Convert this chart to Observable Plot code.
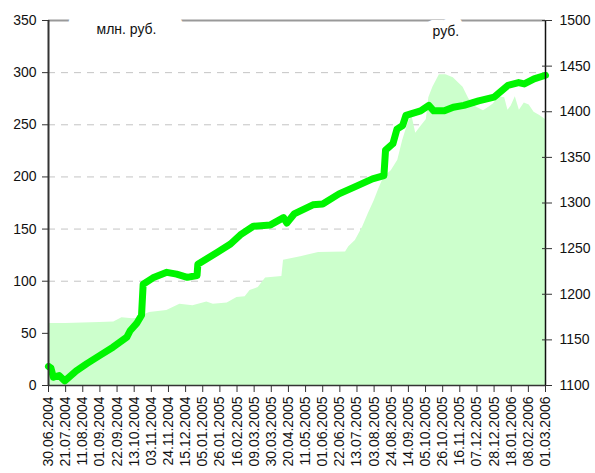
<!DOCTYPE html>
<html>
<head>
<meta charset="utf-8">
<script src="https://cdn.jsdelivr.net/npm/d3@7"></script>
<script src="https://cdn.jsdelivr.net/npm/@observablehq/plot@0.6"></script>
<style>
  html, body { margin: 0; padding: 0; background: #fff; }
  #chart { width: 595px; height: 473px; overflow: hidden; }
</style>
</head>
<body>
<div id="chart"></div>
<script>
// X tick labels (every 3 weeks)
const tickLabels = ["30.06.2004","21.07.2004","11.08.2004","01.09.2004","22.09.2004","13.10.2004","03.11.2004","24.11.2004","15.12.2004","05.01.2005","26.01.2005","16.02.2005","09.03.2005","30.03.2005","20.04.2005","11.05.2005","01.06.2005","22.06.2005","13.07.2005","03.08.2005","24.08.2005","14.09.2005","05.10.2005","26.10.2005","16.11.2005","07.12.2005","28.12.2005","18.01.2006","08.02.2006","01.03.2006"];

// Left axis (млн. руб.) ticks and right axis (руб.) ticks
const leftTicks = [0, 50, 100, 150, 200, 250, 300, 350];
const gridTicks = [50, 100, 150, 200, 250, 300];
const rightTicks = [1100, 1150, 1200, 1250, 1300, 1350, 1400, 1450, 1500];
const leftDomain = [0, 350];
const rightDomain = [1100, 1500];

// Series 1: net assets, млн. руб. (area, left axis)
const assetDates = ["2004-06-30","2004-07-21","2004-08-11","2004-09-01","2004-09-18","2004-09-28","2004-10-11","2004-10-20","2004-10-26","2004-11-01","2004-11-22","2004-12-08","2004-12-24","2005-01-10","2005-01-18","2005-02-04","2005-02-16","2005-02-26","2005-03-04","2005-03-14","2005-03-23","2005-04-12","2005-04-14","2005-05-05","2005-05-27","2005-06-29","2005-07-03","2005-07-11","2005-07-20","2005-07-27","2005-08-03","2005-08-09","2005-08-15","2005-08-24","2005-09-01","2005-09-07","2005-09-13","2005-09-18","2005-09-23","2005-09-29","2005-10-06","2005-10-09","2005-10-14","2005-10-22","2005-10-30","2005-11-08","2005-11-20","2005-11-27","2005-12-06","2005-12-15","2005-12-22","2005-12-27","2006-01-03","2006-01-10","2006-01-14","2006-01-18","2006-01-23","2006-01-28","2006-02-03","2006-02-09","2006-02-15","2006-02-22","2006-03-01"];
const assetValues = [59.5,59.5,60,60.5,61,65,64,64.5,68,70,72,78,76.5,80,78,79,84.5,85,91,94,103,104.5,120,123.5,127.5,128,133,139,152,165,177,189,200,206,216,235,250,260,242,248,255,276,286,298,298,295,286,275,267,263.5,267,270,277,276,264,268,277,264,271,269,262,259,255];

// Series 2: unit price, руб. (line, right axis)
const priceDates = ["2004-06-30","2004-07-03","2004-07-06","2004-07-13","2004-07-20","2004-08-03","2004-08-16","2004-09-01","2004-09-17","2004-10-04","2004-10-08","2004-10-16","2004-10-22","2004-10-24","2004-11-05","2004-11-22","2004-12-04","2004-12-17","2004-12-29","2004-12-30","2005-01-10","2005-01-23","2005-02-08","2005-02-20","2005-03-08","2005-03-29","2005-04-14","2005-04-18","2005-04-27","2005-05-20","2005-06-01","2005-06-21","2005-07-11","2005-08-01","2005-08-15","2005-08-17","2005-08-26","2005-08-31","2005-09-07","2005-09-11","2005-09-29","2005-10-09","2005-10-15","2005-10-28","2005-11-08","2005-11-21","2005-12-09","2005-12-28","2006-01-14","2006-01-27","2006-02-03","2006-02-15","2006-03-01"];
const priceValues = [1121,1119,1109,1111,1105,1116,1124,1133,1142,1153,1160,1168,1177,1211,1218,1224,1222,1218.5,1220.5,1233,1239,1246,1255,1265,1274.5,1276,1284,1278,1288,1298,1299,1310,1318,1326.5,1330,1358,1365,1381,1385,1396,1401,1407,1401,1401,1405,1407,1412,1416,1429,1432,1430.5,1436,1440];

const leftLabel = "млн. руб.";
const rightLabel = "руб.";

const parseTick = d3.utcParse("%d.%m.%Y");
const tickDates = tickLabels.map(parseTick);
const fmt = d3.utcFormat("%d.%m.%Y");
const toLeft = r => (r - rightDomain[0]) * (leftDomain[1] - leftDomain[0]) / (rightDomain[1] - rightDomain[0]) + leftDomain[0];
const fromLeft = v => (v - leftDomain[0]) * (rightDomain[1] - rightDomain[0]) / (leftDomain[1] - leftDomain[0]) + rightDomain[0];

const assets = assetDates.map((d, i) => ({date: new Date(d), v: assetValues[i]}));
const price = priceDates.map((d, i) => ({date: new Date(d), r: priceValues[i]}));
const xDomain = [tickDates[0], tickDates[tickDates.length - 1]];

const chart = Plot.plot({
  width: 595,
  height: 473,
  marginLeft: 48,
  marginRight: 50,
  marginTop: 20,
  marginBottom: 88,
  style: {fontFamily: "'Liberation Sans', Arial, sans-serif", fontSize: "14px", color: "#222", background: "#fff"},
  x: {type: "utc", domain: xDomain},
  y: {domain: leftDomain},
  marks: [
    Plot.ruleY(gridTicks, {stroke: "#c4c4c4", strokeWidth: 1, strokeDasharray: "7,6"}),
    Plot.areaY(assets, {x: "date", y: "v", fill: "#ccffcc", curve: "linear"}),
    Plot.lineY(price, {x: "date", y: d => toLeft(d.r), stroke: "#00f500", strokeWidth: 7, strokeLinejoin: "round", strokeLinecap: "round"}),
    Plot.ruleY([leftDomain[1]], {stroke: "#999", strokeWidth: 2}),
    Plot.text([leftLabel], {frameAnchor: "top-left", dx: 48, dy: 4, text: d => d, fill: "#111", fontSize: 14, stroke: "white", strokeWidth: 58, strokeLinejoin: "round"}),
    Plot.text([rightLabel], {frameAnchor: "top-left", dx: 384, dy: 6, text: d => d, fill: "#111", fontSize: 14, stroke: "white", strokeWidth: 16, strokeLinejoin: "round"}),
    Plot.ruleX([xDomain[0]], {stroke: "#333", strokeWidth: 2}),
    Plot.ruleX([xDomain[1]], {stroke: "#111", strokeWidth: 1.5}),
    Plot.ruleY([leftDomain[0]], {stroke: "#333", strokeWidth: 1.5}),
    Plot.axisY({anchor: "left", ticks: leftTicks, tickSize: 6, tickPadding: 6, label: null, stroke: "#333", fill: "#111"}),
    Plot.axisY({anchor: "right", ticks: rightTicks.map(toLeft), tickFormat: d => String(Math.round(fromLeft(d))), tickSize: 6, tickPadding: 8, label: null, stroke: "#333", fill: "#111"}),
    Plot.axisY({anchor: "right", ticks: rightTicks.map(toLeft), tickFormat: () => "", tickSize: 4, dx: -4, label: null, stroke: "#333"}),
    Plot.axisX({ticks: tickDates, tickFormat: fmt, tickRotate: -90, tickSize: 7, tickPadding: 4, label: null, stroke: "#333", fill: "#111"})
  ]
});
document.getElementById("chart").appendChild(chart);
</script>
</body>
</html>
